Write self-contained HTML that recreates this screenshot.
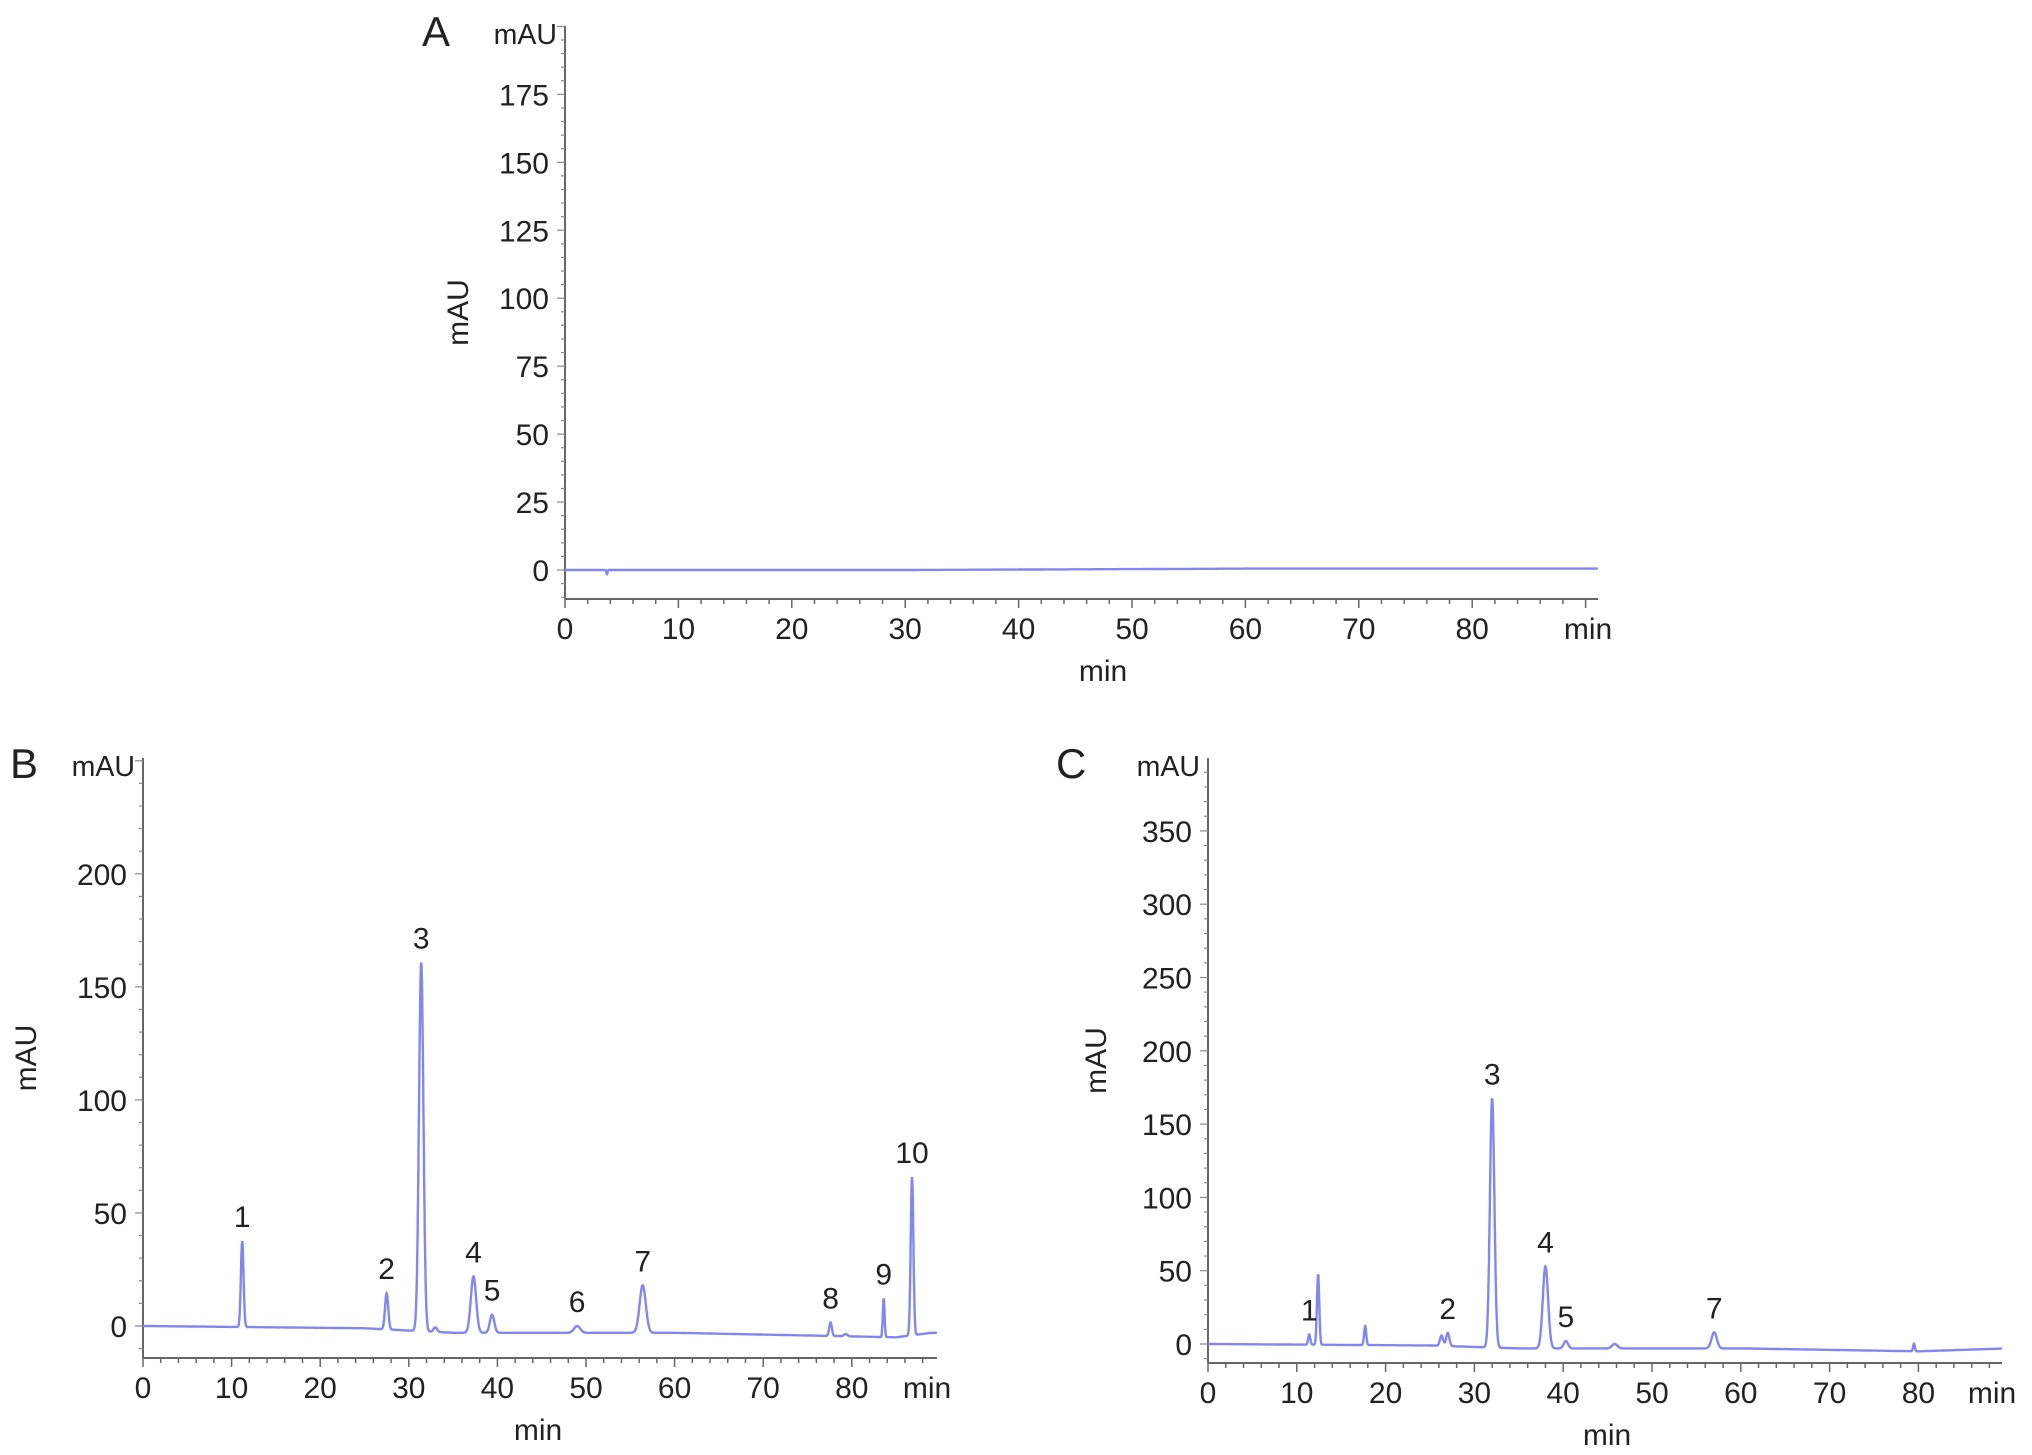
<!DOCTYPE html>
<html><head><meta charset="utf-8"><style>
html,body{margin:0;padding:0;background:#fff;}
svg{display:block;font-family:"Liberation Sans",Arial,sans-serif;}
</style></head><body>
<svg id="fig" width="2032" height="1455" viewBox="0 0 2032 1455"></svg>
<script>
// ---- Panel data ----
const xTicks = [0,10,20,30,40,50,60,70,80];
const aYTicks = [0,25,50,75,100,125,150,175];
const bYTicks = [0,50,100,150,200];
const cYTicks = [0,50,100,150,200,250,300,350];
// peaks: retention time, height, width (min)
const aPeakTimes = [3.7];
const aPeakHeights = [-1.5];
const aPeakWidths = [0.05];
const bPeakTimes = [11.2,27.5,31.4,33.0,37.3,39.4,49.0,56.4,77.6,79.3,83.6,86.8];
const bPeakHeights = [38,16,163,2,25,8,3,21,6,1,17,70];
const bPeakWidths = [0.15,0.18,0.25,0.2,0.3,0.25,0.35,0.35,0.15,0.2,0.1,0.15];
const bPeakLabels = ["1","2","3","","4","5","6","7","8","","9","10"];
const cPeakTimes = [11.4,12.4,17.7,26.3,27.0,32.0,38.0,40.3,45.8,57.0,79.5];
const cPeakHeights = [7,48,13,7,9,170,56,5,3,11,5];
const cPeakWidths = [0.12,0.13,0.12,0.18,0.18,0.25,0.3,0.25,0.3,0.3,0.1];
const cPeakLabels = ["1","","","","2","3","4","5","","7",""];
// baseline drift knots [time, value]
const aBaseT = [0,30,60,91];
const aBaseV = [0,0,0.5,0.5];
const bBaseT = [0,25,35,60,85,89];
const bBaseV = [0,-1,-3,-3,-5,-3];
const cBaseT = [0,25,35,60,80,90];
const cBaseV = [0,-1,-3,-3,-5,-3];

const NS="http://www.w3.org/2000/svg";
const svg=document.getElementById('fig');
function mk(tag,attrs,parent){const e=document.createElementNS(NS,tag);for(const k in attrs)e.setAttribute(k,attrs[k]);(parent||svg).appendChild(e);return e;}
function txt(s,x,y,size,parent,anchor){const t=mk('text',{x:x,y:y,'font-size':size,'text-anchor':anchor||'middle',fill:'#222'},parent);t.textContent=s;return t;}
function interp(T,V,t){if(t<=T[0])return V[0];for(let i=1;i<T.length;i++){if(t<=T[i]){const f=(t-T[i-1])/(T[i]-T[i-1]);return V[i-1]+f*(V[i]-V[i-1]);}}return V[V.length-1];}

function panel(cfg){
  const g=mk('g',{});
  
  
  const X=t=>cfg.x0+t*cfg.pxMin;
  const Y=v=>cfg.y0-v*cfg.pxUnit;
  const ax=mk('line',{x1:cfg.x0,y1:cfg.top,x2:cfg.x0,y2:cfg.axisY,stroke:'#666','stroke-width':2},g);
  
  const bx=mk('line',{x1:cfg.x0,y1:cfg.axisY,x2:cfg.xEnd,y2:cfg.axisY,stroke:'#666','stroke-width':2},g);
  
  for(let t=0;t*cfg.pxMin<=cfg.xEnd-cfg.x0;t+=2){
    const major=t%10===0;
    mk('line',{x1:X(t),y1:cfg.axisY,x2:X(t),y2:cfg.axisY+(major?9:5),stroke:'#666','stroke-width':1.5},g);
  }
  xTicks.forEach(t=>{const l=txt(String(t),X(t),cfg.axisY+40,cfg.fs,g);
    });
  const mu=txt('min',cfg.xEnd-10,cfg.axisY+40,cfg.fs,g);
  
  const step=cfg.yTicks[1]-cfg.yTicks[0];
  for(let v=-step;Y(v)>=cfg.top;v+=step/5){
    if(Y(v)>cfg.axisY)continue;
    const major=Math.abs(v/step-Math.round(v/step))<1e-6;
    mk('line',{x1:cfg.x0-(major?8:4),y1:Y(v),x2:cfg.x0,y2:Y(v),stroke:'#888','stroke-width':1.2},g);
  }
  cfg.yTicks.forEach(v=>{const l=txt(String(v),cfg.x0-16,Y(v)+11,cfg.fs,g,'end');
    });
  const yu=txt('mAU',cfg.x0-8,cfg.top+18,cfg.fs*0.95,g,'end');
  
  const pl=txt(cfg.letter,cfg.letterX,cfg.top+20,cfg.fs*1.4,g,'start');
  
  const xt=txt('min',cfg.xTitleX,cfg.axisY+82,cfg.fs,g);
  
  const yt=txt('mAU',0,0,cfg.fs,g);
  yt.setAttribute('transform','translate('+cfg.yTitleX+','+((cfg.top+cfg.axisY)/2)+') rotate(-90)');
  
  const tmax=(cfg.xEnd-cfg.x0)/cfg.pxMin;
  let d='';
  for(let t=0;t<=tmax;t+=0.02){
    let v=interp(cfg.bT,cfg.bV,t);
    for(let i=0;i<cfg.pt.length;i++){const z=(t-cfg.pt[i])/cfg.pw[i];v+=cfg.ph[i]*Math.exp(-0.5*z*z);}
    d+=(d?'L':'M')+X(t).toFixed(1)+' '+Y(v).toFixed(1);
  }
  const tr=mk('path',{d:d,fill:'none',stroke:'#8585f0','stroke-width':2.4},g);
  
  if(cfg.pl){cfg.pl.forEach((s,i)=>{if(!s)return;
    const base=interp(cfg.bT,cfg.bV,cfg.pt[i]);
    const l=txt(s,X(cfg.pt[i]),Y(base+cfg.ph[i])-14,cfg.fs,g);
    });}
}

panel({name:'panel-a',letter:'A',letterX:422,x0:565,top:26,axisY:599,xEnd:1598,pxMin:11.34,y0:570,pxUnit:2.718,
  yTicks:aYTicks,fs:30,xTitleX:1103,yTitleX:468,bT:aBaseT,bV:aBaseV,pt:aPeakTimes,ph:aPeakHeights,pw:aPeakWidths,pl:null});
panel({name:'panel-b',letter:'B',letterX:10,x0:143,top:758,axisY:1358,xEnd:937,pxMin:8.86,y0:1326,pxUnit:2.261,
  yTicks:bYTicks,fs:30,xTitleX:538,yTitleX:36,bT:bBaseT,bV:bBaseV,pt:bPeakTimes,ph:bPeakHeights,pw:bPeakWidths,pl:bPeakLabels});
panel({name:'panel-c',letter:'C',letterX:1056,x0:1208,top:758,axisY:1363,xEnd:2002,pxMin:8.88,y0:1344,pxUnit:1.466,
  yTicks:cYTicks,fs:30,xTitleX:1607,yTitleX:1106,bT:cBaseT,bV:cBaseV,pt:cPeakTimes,ph:cPeakHeights,pw:cPeakWidths,pl:cPeakLabels});
</script>
</body></html>
